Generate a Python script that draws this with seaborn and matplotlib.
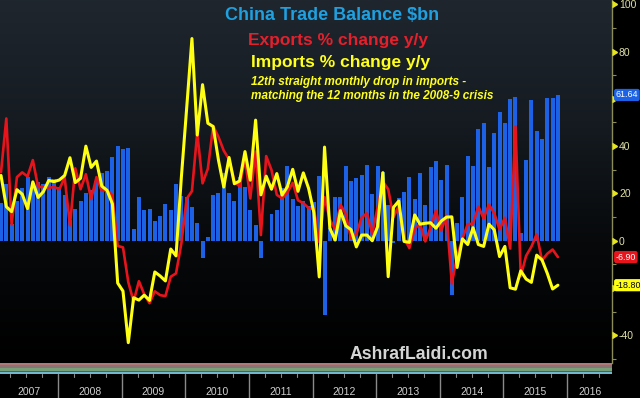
import numpy as np
import pandas as pd
import matplotlib
matplotlib.use("Agg")
import matplotlib.pyplot as plt
import matplotlib.transforms as mtransforms
from matplotlib.colors import LinearSegmentedColormap
import seaborn as sns

sns.set_theme(style="dark")
plt.rcParams['font.family'] = ['Liberation Sans', 'DejaVu Sans']

# ---------------- data (monthly, Jan 2007 .. Oct 2015) ----------------
balance = [15.9, 23.8, 6.9, 16.9, 22.5, 26.9, 24.4, 25.0, 23.9, 27.0, 26.3, 22.7,
           19.5, 8.6, 13.4, 16.7, 20.2, 21.3, 25.3, 28.7, 29.3, 35.2, 40.1, 39.0,
           39.1, 4.8, 18.6, 13.1, 13.4, 8.3, 10.6, 15.7, 12.9, 24.0, 19.1, 18.4,
           14.2, 7.6, -7.2, 1.7, 19.5, 20.0, 28.7, 20.0, 16.9, 27.1, 22.9, 13.1,
           6.5, -7.3, 0.1, 11.4, 13.1, 22.3, 31.5, 17.8, 14.5, 17.0, 14.5, 16.5,
           27.3, -31.5, 5.4, 18.4, 18.7, 31.7, 25.1, 26.7, 27.7, 32.0, 19.6, 31.6,
           29.2, 15.3, -0.9, 18.2, 20.4, 27.1, 17.8, 28.5, 15.2, 31.1, 33.8, 25.6,
           31.9, -23.0, 7.7, 18.5, 35.9, 31.6, 47.3, 49.8, 31.0, 45.4, 54.5, 49.6,
           60.0, 60.6, 3.1, 34.1, 59.5, 46.5, 43.0, 60.2, 60.3, 61.64]
exports = [29.0, 51.7, 6.9, 26.9, 28.9, 27.2, 34.1, 22.7, 22.8, 22.3, 22.8, 21.7,
           26.7, 6.5, 30.6, 21.8, 28.1, 17.6, 26.9, 21.1, 21.5, 19.2, -2.2, -2.8,
           -17.5, -25.7, -17.1, -22.6, -26.4, -21.4, -23.0, -23.4, -15.2, -13.8, -1.2, 17.7,
           21.0, 45.7, 24.3, 30.5, 48.5, 43.9, 38.1, 34.4, 25.1, 22.9, 34.9, 17.9,
           37.7, 2.4, 35.8, 29.9, 19.4, 17.9, 20.4, 24.5, 17.1, 15.9, 13.8, 13.4,
           -0.5, 18.4, 8.9, 4.9, 15.3, 11.3, 1.0, 2.7, 9.9, 11.6, 2.9, 14.1,
           25.0, 21.8, 10.0, 14.7, 1.0, -3.1, 5.1, 7.2, -0.3, 5.6, 12.7, 4.3,
           10.6, -18.1, -6.6, 0.9, 7.0, 7.2, 14.5, 9.4, 15.3, 11.6, 4.7, 9.7,
           -3.3, 48.3, -15.0, -6.4, -2.5, 2.8, -8.3, -5.5, -3.7, -6.90]
imports = [27.6, 14.4, 12.3, 21.6, 19.7, 13.6, 24.9, 18.3, 20.8, 25.5, 25.0, 25.7,
           27.6, 35.1, 24.6, 26.4, 40.0, 31.0, 33.7, 23.1, 21.3, 15.6, -17.9, -21.3,
           -43.1, -24.1, -25.1, -23.0, -25.2, -13.2, -14.9, -17.0, -3.5, -6.4, 26.7, 55.9,
           85.5, 44.7, 66.0, 49.7, 48.3, 34.1, 22.7, 35.2, 24.1, 25.3, 37.7, 25.6,
           51.0, 19.4, 27.3, 21.8, 28.4, 19.3, 22.9, 30.2, 20.9, 28.7, 22.1, 11.8,
           -15.3, 39.6, 5.3, 0.3, 12.7, 6.3, 4.7, -2.6, 2.4, 2.4, 0.0, 6.0,
           28.8, -15.2, 14.1, 16.8, -0.3, -0.7, 10.9, 7.0, 7.4, 7.6, 5.3, 8.3,
           10.0, 10.1, -11.3, 0.8, -1.6, 5.5, -1.6, -2.4, 7.0, 4.6, -6.7, -2.4,
           -19.9, -20.5, -12.7, -16.2, -17.6, -6.1, -8.1, -13.8, -20.4, -18.80]
years = ["2007", "2008", "2009", "2010", "2011", "2012", "2013", "2014", "2015", "2016"]
y_ticks = [-40, -20, 0, 20, 40, 60, 80, 100]
y_ticklabels = ["-40", "", "0", "20", "40", "", "80", "100"]  # -20 / 60 sit under the value boxes

df = pd.DataFrame({"month": np.arange(len(balance)), "balance": balance,
                   "exports": exports, "imports": imports})

W, H = 640, 398
fig = plt.figure(figsize=(W / 100, H / 100), dpi=100, facecolor="black")
ax = fig.add_axes([0, 35 / H, 612 / W, 363 / H])

# background gradient
cmap = LinearSegmentedColormap.from_list("bg", ["#1f262e", "#151b21", "#07090b", "#000000"])
grad = np.linspace(0, 1, 256).reshape(-1, 1)
ax.imshow(grad, extent=[0, 1, 0, 1], transform=ax.transAxes, cmap=cmap,
          aspect="auto", zorder=0)

sns.barplot(data=df, x="month", y="balance", native_scale=True, width=0.75,
            color="#1d62e6", saturation=1, errorbar=None, ax=ax, zorder=2,
            linewidth=0, edgecolor="none")
sns.lineplot(data=df, x="month", y="exports", color="#e8141c", lw=1.9, ax=ax, zorder=3)
sns.lineplot(data=df, x="month", y="imports", color="#ffff14", lw=2.2, ax=ax, zorder=4)

x_lo, x_hi = -0.19, 115.2
ax.set_xlim(x_lo, x_hi)
ax.set_ylim(-51.7, 101.8)
ax.set_xticks([])
ax.set_xlabel("")
ax.set_ylabel("")
ax.set_facecolor("black")
for s in ["top", "left", "bottom"]:
    ax.spines[s].set_visible(False)
axis_col = "#8c8c5a"
ax.spines["right"].set_color(axis_col)
ax.spines["right"].set_linewidth(1)

ax.yaxis.tick_right()
ax.set_yticks(y_ticks)
ax.set_yticklabels(y_ticklabels)
ax.set_yticks([t + 10 for t in y_ticks[:-1]] + [-50], minor=True)
ax.tick_params(axis="y", which="major", length=0, pad=5, labelsize=7.5,
               labelcolor="#e0e0a6")
ax.tick_params(axis="y", which="minor", length=3, width=0.8, color=axis_col,
               direction="out", right=True, left=False)

trans = mtransforms.blended_transform_factory(ax.transAxes, ax.transData)
ax.plot(np.ones(len(y_ticks)), y_ticks, transform=trans, ls="none", marker=9,
        ms=4.5, color="#e6e61a", clip_on=False, zorder=6)

# last value boxes
for val, fc, tc in [(balance[-1], "#1d62e6", "white"),
                    (exports[-1], "#e8141c", "white"),
                    (imports[-1], "#ffff14", "black")]:
    ax.text(1.006, val, f"{val:.2f}", transform=trans, ha="left", va="center",
            fontsize=6.4, color=tc, clip_on=False, zorder=10,
            bbox=dict(boxstyle="round,pad=0.18,rounding_size=0.25", fc=fc, ec="none"))

# bottom time strip
ax2 = fig.add_axes([0, 0, 612 / W, 35 / H])
ax2.set_facecolor("black")
ax2.set_xlim(x_lo, x_hi)
ax2.set_ylim(0, 35)
ax2.axis("off")
for y0, y1, c in [(33, 35, "#b07878"), (30, 33, "#8a7474"), (27, 30, "#78a078"),
                  (26, 27, "#5a5a5a"), (24, 26, "#70b8d0")]:
    ax2.axhspan(y0, y1, color=c, lw=0)
first_sep = 10.74
for k, yr in enumerate(years):
    sep = first_sep + 12 * (k - 1)
    if k > 0:
        ax2.plot([sep, sep], [0, 24], color="#8a8a8a", lw=1)
    for q in (3, 6, 9):
        if x_lo < sep + q < x_hi:
            ax2.plot([sep + q, sep + q], [21, 24], color="#8a8a8a", lw=0.8)
    lo = max(sep, x_lo)
    hi = min(sep + 12, x_hi)
    ax2.text((lo + hi) / 2, 6, yr, ha="center", va="center", fontsize=7.5,
             color="#cfcfcf")

# titles
fig.text(332 / W, 1 - 20 / H, "China Trade Balance \\$bn", ha="center", va="baseline",
         color="#1fa0e0", fontsize=13, fontweight="bold")
fig.text(248 / W, 1 - 45 / H, "Exports % change y/y", ha="left", va="baseline",
         color="#e3202c", fontsize=12.5, fontweight="bold")
fig.text(251 / W, 1 - 66.5 / H, "Imports % change y/y", ha="left", va="baseline",
         color="#ffff1e", fontsize=12.5, fontweight="bold")
fig.text(251 / W, 1 - 85 / H, "12th straight monthly drop in imports -", ha="left",
         va="baseline", color="#ffff1e", fontsize=8.5, fontweight="bold", style="italic")
fig.text(251 / W, 1 - 98.5 / H, "matching the 12 months in the 2008-9 crisis", ha="left",
         va="baseline", color="#ffff1e", fontsize=8.5, fontweight="bold", style="italic")
fig.text(350 / W, 1 - 359 / H, "AshrafLaidi.com", ha="left", va="baseline",
         color="#d4d4d4", fontsize=12.7, fontweight="bold")

fig.savefig("out.png", dpi=100, facecolor="black")
